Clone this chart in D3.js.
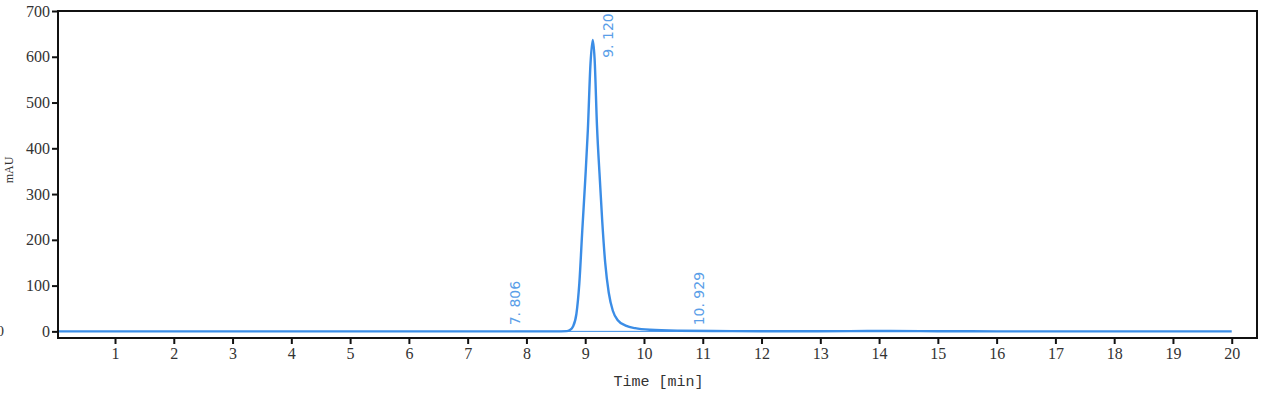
<!DOCTYPE html>
<html>
<head>
<meta charset="utf-8">
<script src="https://cdn.jsdelivr.net/npm/d3@7"></script>
<style>
  body { margin: 0; background: #fff; }
  svg { display: block; }
</style>
</head>
<body>
<div id="chart"></div>
<script>
// Chromatogram trace (time in min, signal in mAU)
const times = [0, 2, 4, 6, 7, 8, 8.5, 8.68, 8.74, 8.79, 8.85, 8.9, 8.95, 9.0, 9.045, 9.09, 9.128, 9.16, 9.2, 9.25, 9.29, 9.34, 9.4, 9.47, 9.55, 9.7, 9.85, 10.1, 10.6, 11.5, 12.5, 13.5, 14.2, 15, 16, 18, 20];
const values = [0, 0, 0, 0, 0, 0, 0, 0.5, 3, 10, 38, 105, 220, 330, 440, 585, 637, 595, 450, 330, 240, 150, 85, 45, 25, 12, 7, 3.5, 1.5, 0.5, 0.3, 0.6, 0.8, 0.4, 0, 0, 0];

// Integrated peaks: retention time and apex height
const peakTimes = [7.806, 9.120, 10.929];
const peakHeights = [0, 637, 0];
const peakLabels = ["7. 806", "9. 120", "10. 929"];

// Baseline drawn under the integrated region
const baseStart = 7.806, baseEnd = 10.929;

const xTicks = d3.range(1, 21);
const yTicks = [0, 100, 200, 300, 400, 500, 600, 700];

const width = 1272, height = 399;
const margin = { top: 11, right: 15, bottom: 61, left: 58 };

const svg = d3.select('#chart')
    .append('svg')
    .attr('width', width)
    .attr('height', height);

const x = d3.scaleLinear()
    .domain([0.03, 20.43])
    .range([margin.left, width - margin.right]);

const y = d3.scaleLinear()
    .domain([-14.5, 700])
    .range([height - margin.bottom, margin.top]);

const blue = '#3b8de6';

svg.append('clipPath')
    .attr('id', 'plotClip')
    .append('rect')
    .attr('x', margin.left)
    .attr('y', margin.top)
    .attr('width', width - margin.left - margin.right)
    .attr('height', height - margin.top - margin.bottom);

const plot = svg.append('g').attr('clip-path', 'url(#plotClip)');

// baseline under peaks
plot.append('line')
    .attr('x1', x(baseStart)).attr('x2', x(baseEnd))
    .attr('y1', y(0)).attr('y2', y(0))
    .attr('stroke', blue)
    .attr('stroke-width', 1);

// trace
const data = times.map((t, i) => ({ t, v: values[i] }));
const line = d3.line()
    .x(d => x(d.t))
    .y(d => y(d.v))
    .curve(d3.curveMonotoneX);

plot.append('path')
    .datum(data)
    .attr('fill', 'none')
    .attr('stroke', blue)
    .attr('stroke-width', 2.4)
    .attr('stroke-linejoin', 'round')
    .attr('d', line);

// peak labels (rotated), placed beside the apex when too tall
peakTimes.forEach((t, i) => {
    let px = x(t) + 5;
    let py = y(peakHeights[i]) - 6;
    if (py - 55 < margin.top) {
        px = x(t) + 21;
        py = y(peakHeights[i]) + 18;
    }
    plot.append('text')
        .attr('transform', `translate(${px},${py}) rotate(-90)`)
        .attr('fill', '#5a9ee8')
        .style('font-family', '"DejaVu Sans", sans-serif')
        .style('font-size', '14px')
        .text(peakLabels[i]);
});

// Axes
const axisFont = '"Liberation Serif", serif';

const xAxis = svg.append('g')
    .attr('transform', `translate(0,${height - margin.bottom})`)
    .call(d3.axisBottom(x).tickValues(xTicks).tickSize(6).tickPadding(4).tickFormat(d3.format('d')));
xAxis.select('.domain').remove();
xAxis.selectAll('line').attr('stroke', '#111').attr('stroke-width', 2);
xAxis.selectAll('text')
    .style('font-family', axisFont)
    .style('font-size', '16px')
    .attr('fill', '#333');

const yAxis = svg.append('g')
    .attr('transform', `translate(${margin.left},0)`)
    .call(d3.axisLeft(y).tickValues(yTicks).tickSize(6).tickPadding(2));
yAxis.select('.domain').remove();
yAxis.selectAll('line').attr('stroke', '#111').attr('stroke-width', 2);
yAxis.selectAll('text')
    .style('font-family', axisFont)
    .style('font-size', '16px')
    .attr('fill', '#333');

// frame
svg.append('rect')
    .attr('x', margin.left)
    .attr('y', margin.top)
    .attr('width', width - margin.left - margin.right)
    .attr('height', height - margin.top - margin.bottom)
    .attr('fill', 'none')
    .attr('stroke', '#111')
    .attr('stroke-width', 2);

// axis titles
svg.append('text')
    .attr('x', (margin.left + width - margin.right) / 2 + 1)
    .attr('y', 386)
    .attr('text-anchor', 'middle')
    .attr('fill', '#333')
    .style('font-family', '"Liberation Mono", monospace')
    .style('font-size', '15px')
    .text('Time [min]');

svg.append('text')
    .attr('transform', `translate(13,170) rotate(-90)`)
    .attr('text-anchor', 'middle')
    .attr('fill', '#333')
    .style('font-family', axisFont)
    .style('font-size', '12px')
    .text('mAU');

// cropped glyph at the left edge
svg.append('text')
    .attr('x', 4)
    .attr('y', y(0) + 5)
    .attr('text-anchor', 'end')
    .attr('fill', '#333')
    .style('font-family', axisFont)
    .style('font-size', '15px')
    .text('0');
</script>
</body>
</html>
